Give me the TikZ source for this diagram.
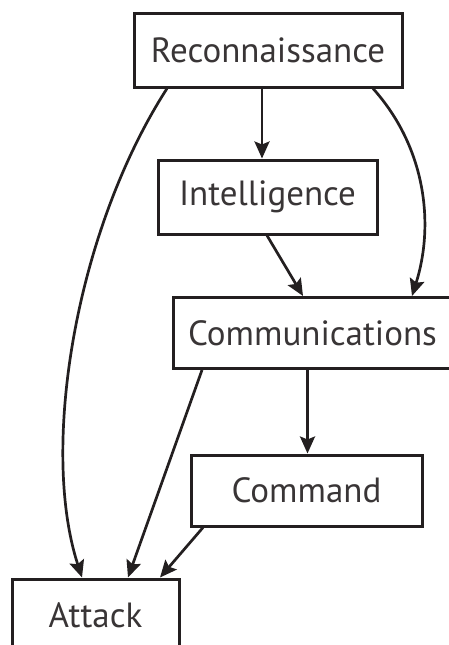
\documentclass[tikz,border=0pt]{standalone}
\usepackage{fontspec}
\setmainfont{PT Sans}
\usetikzlibrary{arrows.meta}
\definecolor{ink}{HTML}{231F20}
\tikzset{
  box/.style={draw=ink, line width=3pt, rectangle, inner sep=0pt, text=ink!90,
    font=\fontsize{35}{38}\selectfont},
  conn/.style={draw=ink, line width=2.7pt, -{Stealth[length=17pt,width=15pt,inset=3pt]}}
}
\begin{document}
\begin{tikzpicture}[x=1pt,y=-1pt]
\useasboundingbox (0,0) rectangle (449,645);
\node[box, minimum width=268pt, minimum height=74pt] (recon) at (268,50) {Reconnaissance};
\node[box, minimum width=219pt, minimum height=74pt] (intel) at (267.5,197) {Intelligence};
\node[box, minimum width=279pt, minimum height=71pt] (comm) at (312.5,333) {Communications};
\node[box, minimum width=231pt, minimum height=71pt] (command) at (306.5,490.5) {Command};
\node[box, minimum width=167pt, minimum height=72pt] (attack) at (95.5,615) {Attack};

\draw[conn] ([xshift=-6pt]recon.south) -- ([xshift=-5.5pt]intel.north);
\draw[conn] ([xshift=-0.5pt]intel.south) -- ([xshift=-9.5pt]comm.north);
\draw[conn] ([xshift=105pt]recon.south) .. controls +(52,58) and +(23,-73) .. ([xshift=99.5pt]comm.north);
\draw[conn] ([xshift=-101pt]recon.south) .. controls +(-92,143) and +(-42,-129) .. ([xshift=-13.5pt]attack.north);
\draw[conn] ([xshift=-110.5pt]comm.south) -- ([xshift=32.5pt]attack.north);
\draw[conn] ([xshift=-5pt]comm.south) -- ([xshift=1pt]command.north);
\draw[conn] ([xshift=-103.5pt]command.south) -- ([xshift=64.5pt]attack.north);
\end{tikzpicture}
\end{document}
